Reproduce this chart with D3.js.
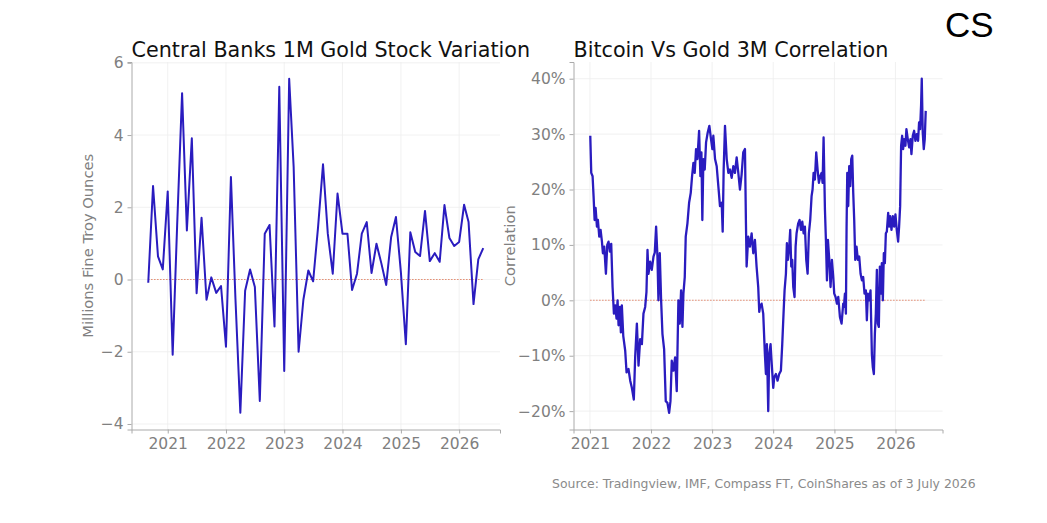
<!DOCTYPE html>
<html>
<head>
<meta charset="utf-8">
<script src="https://cdn.jsdelivr.net/npm/d3@7"></script>
<style>
  body { margin: 0; background: #fff; }
  svg { font-family: "DejaVu Sans", sans-serif; }
</style>
</head>
<body>
<script>
const width = 1047;
const height = 523;

// Central banks monthly gold stock change, Sep 2020 .. Jun 2026 (millions fine troy oz)
const goldStart = new Date(2020, 8, 1);
const goldEnd = new Date(2026, 6, 1);
const goldValues = [
  -0.09, 2.59, 0.64, 0.28, 2.44, -2.08, 1.5, 5.16, 1.36, 3.91,
  -0.38, 1.71, -0.56, 0.06, -0.37, -0.18, -1.86, 2.84, -0.5, -3.69,
  -0.31, 0.28, -0.21, -3.36, 1.27, 1.51, -1.30, 5.34, -2.53, 5.56,
  3.12, -2.0, -0.56, 0.25, -0.05, 1.45, 3.19, 1.27, 0.16, 2.38,
  1.27, 1.27, -0.29, 0.16, 1.27, 1.59, 0.18, 0.99, 0.44, -0.15,
  1.18, 1.73, 0.2, -1.79, 1.31, 0.76, 0.65, 1.90, 0.51, 0.73,
  0.49, 2.06, 1.15, 0.93, 1.04, 2.07, 1.59, -0.68, 0.56, 0.87
];
const goldTicks = [-4, -2, 0, 2, 4, 6];

// Bitcoin vs gold 3M correlation (decimal year, %)
const corrYears = [
  2021.005, 2021.021, 2021.043, 2021.059, 2021.076, 2021.092, 2021.114, 2021.130, 2021.152, 2021.174,
  2021.196, 2021.212, 2021.234, 2021.261, 2021.283, 2021.304, 2021.326, 2021.348, 2021.370, 2021.392,
  2021.413, 2021.435, 2021.452, 2021.468, 2021.490, 2021.506, 2021.522, 2021.545, 2021.577, 2021.599,
  2021.631, 2021.659, 2021.686, 2021.718, 2021.740, 2021.768, 2021.795, 2021.822, 2021.850, 2021.876,
  2021.904, 2021.925, 2021.942, 2021.958, 2021.985, 2022.012, 2022.040, 2022.061, 2022.083, 2022.105,
  2022.121, 2022.143, 2022.165, 2022.187, 2022.214, 2022.241, 2022.268, 2022.296, 2022.318, 2022.339,
  2022.367, 2022.394, 2022.421, 2022.448, 2022.470, 2022.492, 2022.514, 2022.530, 2022.552, 2022.568,
  2022.596, 2022.623, 2022.650, 2022.672, 2022.694, 2022.715, 2022.737, 2022.759, 2022.787, 2022.808,
  2022.825, 2022.840, 2022.857, 2022.879, 2022.901, 2022.928, 2022.955, 2022.982, 2023.004, 2023.020,
  2023.048, 2023.075, 2023.102, 2023.129, 2023.157, 2023.173, 2023.189, 2023.211, 2023.239, 2023.266,
  2023.293, 2023.320, 2023.347, 2023.374, 2023.402, 2023.429, 2023.456, 2023.483, 2023.510, 2023.538,
  2023.554, 2023.565, 2023.592, 2023.619, 2023.647, 2023.674, 2023.701, 2023.728, 2023.755, 2023.772,
  2023.783, 2023.810, 2023.837, 2023.864, 2023.881, 2023.897, 2023.919, 2023.935, 2023.957, 2023.973,
  2024.001, 2024.017, 2024.044, 2024.071, 2024.098, 2024.126, 2024.148, 2024.169, 2024.186, 2024.208,
  2024.224, 2024.240, 2024.262, 2024.278, 2024.295, 2024.311, 2024.328, 2024.349, 2024.366, 2024.382,
  2024.409, 2024.431, 2024.453, 2024.475, 2024.497, 2024.518, 2024.540, 2024.562, 2024.583, 2024.605,
  2024.627, 2024.643, 2024.660, 2024.681, 2024.703, 2024.725, 2024.747, 2024.769, 2024.790, 2024.807,
  2024.823, 2024.845, 2024.861, 2024.878, 2024.894, 2024.916, 2024.937, 2024.959, 2024.981, 2024.997,
  2025.019, 2025.041, 2025.063, 2025.090, 2025.117, 2025.144, 2025.155, 2025.172, 2025.188, 2025.199,
  2025.210, 2025.226, 2025.242, 2025.259, 2025.275, 2025.292, 2025.308, 2025.324, 2025.341, 2025.362,
  2025.384, 2025.406, 2025.428, 2025.450, 2025.471, 2025.493, 2025.515, 2025.531, 2025.548, 2025.569,
  2025.591, 2025.613, 2025.629, 2025.646, 2025.662, 2025.678, 2025.695, 2025.711, 2025.727, 2025.744,
  2025.760, 2025.776, 2025.793, 2025.809, 2025.826, 2025.842, 2025.858, 2025.880, 2025.896, 2025.912,
  2025.934, 2025.956, 2025.978, 2025.999, 2026.021, 2026.043, 2026.059, 2026.076, 2026.092, 2026.109,
  2026.125, 2026.141, 2026.163, 2026.179, 2026.201, 2026.223, 2026.245, 2026.261, 2026.283, 2026.305,
  2026.326, 2026.348, 2026.370, 2026.386, 2026.403, 2026.419, 2026.430, 2026.446, 2026.463, 2026.479,
  2026.495
];
const corrValues = [
  29.7, 23.0, 22.4, 18.8, 14.5, 16.7, 13.3, 14.5, 11.5, 12.7,
  10.6, 8.5, 9.7, 4.8, 10.0, 10.6, 8.8, 10.2, 2.4, -2.4,
  -0.9, -3.3, 0.0, -4.5, -1.2, -5.8, -0.9, -6.4, -9.1, -13.0,
  -12.4, -14.5, -15.8, -17.9, -10.3, -4.2, -11.8, -7.0, -7.9, -2.4,
  -1.2, 1.5, 9.1, 4.8, 7.0, 5.5, 7.9, 8.6, 13.3, 7.9,
  0.0, 8.5, 0.0, -6.1, -8.8, -18.2, -18.5, -20.3, -18.2, -10.9,
  -12.7, -10.3, -16.4, 0.0, -4.2, 1.8, -4.8, 1.2, 4.2, 11.5,
  13.9, 17.6, 19.4, 22.4, 24.8, 23.0, 27.3, 25.5, 30.6, 22.4,
  26.7, 14.5, 25.5, 23.6, 28.5, 30.3, 31.5, 29.1, 27.3, 29.7,
  25.5, 24.2, 20.6, 17.0, 17.6, 12.4, 23.6, 31.5, 25.5, 23.0,
  23.6, 22.1, 24.2, 23.0, 25.8, 23.0, 20.0, 22.7, 26.7, 27.3,
  13.9, 6.1, 11.5, 9.7, 12.1, 8.5, 10.9, 6.1, 2.4, -2.1,
  -1.2, -0.6, -2.4, -9.7, -13.3, -7.9, -20.0, -9.7, -7.9, -10.9,
  -15.8, -13.9, -13.3, -14.5, -13.3, -12.7, -7.9, -2.4, 1.8, 4.8,
  10.3, 7.3, 9.7, 12.7, 6.1, 7.3, 2.4, 0.6, 9.7, 12.1,
  13.9, 14.5, 12.7, 14.2, 12.1, 13.3, 7.3, 4.8, 12.1, 14.5,
  18.8, 20.0, 23.0, 21.8, 26.7, 23.6, 21.2, 22.4, 23.0, 21.2,
  29.4, 16.4, 10.9, 3.6, 10.9, 7.3, 2.4, 7.3, 4.2, 1.2,
  0.6, -0.6, 0.6, -3.0, -4.2, -0.6, -1.2, 1.2, -2.4, 13.3,
  23.0, 17.0, 24.2, 20.6, 25.5, 26.1, 19.4, 14.5, 7.3, 9.7,
  7.3, 7.9, 4.8, 3.6, 4.2, 1.2, 1.8, -3.6, 1.2, 0.0,
  1.8, -9.7, -12.1, -13.3, -6.1, -2.4, 5.5, -4.2, -4.8, 6.1,
  1.2, 6.7, 0.0, 8.5, 6.7, 12.1, 12.4, 15.8, 13.3, 15.2,
  12.7, 15.2, 13.3, 15.5, 12.7, 10.6, 13.3, 17.0, 27.9, 29.7,
  27.3, 29.1, 27.9, 30.9, 29.1, 27.6, 29.1, 26.4, 29.7, 30.6,
  28.8, 30.0, 28.8, 32.1, 30.9, 35.2, 40.0, 30.3, 27.3, 29.1,
  34.2
];
const corrTicks = [-20, -10, 0, 10, 20, 30, 40];
const yearTicks = [2021, 2022, 2023, 2024, 2025, 2026];

const lineColor = "#2a1cbf";
const zeroColor = "#e0714f";
const grey = "#808080";

function yearToDate(y) {
  const yr = Math.floor(y);
  const start = Date.UTC(yr, 0, 1), end = Date.UTC(yr + 1, 0, 1);
  return new Date(start + (y - yr) * (end - start));
}
function padded(ext) {
  const r = ext[1] - ext[0];
  return [ext[0] - r * 0.05, ext[1] + r * 0.05];
}

const goldData = d3.timeMonth.range(goldStart, goldEnd).map((d, i) => ({date: d, value: goldValues[i]}));
const corrData = corrYears.map((y, i) => ({date: yearToDate(y), value: corrValues[i]}));

const svg = d3.select("body").append("svg")
    .attr("width", width)
    .attr("height", height);

function drawPanel(opts) {
  const {data, box, yTicks, yFormat, title, yLabel, yLabelX, lineWidth} = opts;
  const xExt = padded(d3.extent(data, d => +d.date));
  const yExt = padded(d3.extent(data, d => d.value));
  const x = d3.scaleTime().domain([new Date(xExt[0]), new Date(xExt[1])]).range([box.left, box.right]);
  const y = d3.scaleLinear().domain(yExt).range([box.bottom, box.top]);
  const yearDates = yearTicks.map(t => new Date(t, 0, 1));

  const g = svg.append("g");

  // grid
  g.selectAll(".vgrid").data(yearDates).enter().append("line")
      .attr("x1", d => x(d)).attr("x2", d => x(d))
      .attr("y1", box.top).attr("y2", box.bottom)
      .attr("stroke", "#eeeeee").attr("stroke-width", 0.8);
  g.selectAll(".hgrid").data(yTicks).enter().append("line")
      .attr("x1", box.left).attr("x2", box.right)
      .attr("y1", d => y(d)).attr("y2", d => y(d))
      .attr("stroke", "#eeeeee").attr("stroke-width", 0.8);

  // axes
  const xAxis = g.append("g")
      .attr("transform", `translate(0,${box.bottom})`)
      .call(d3.axisBottom(x).tickValues(yearDates).tickFormat(d3.timeFormat("%Y")).tickSize(4).tickPadding(4));
  const yAxis = g.append("g")
      .attr("transform", `translate(${box.left},0)`)
      .call(d3.axisLeft(y).tickValues(yTicks).tickFormat(yFormat).tickSize(4).tickPadding(4));
  [xAxis, yAxis].forEach(a => {
    a.select(".domain").attr("stroke", "#aaaaaa").attr("stroke-width", 1);
    a.selectAll(".tick line").attr("stroke", "#aaaaaa");
    a.selectAll(".tick text").attr("fill", grey).style("font-size", "15.5px")
        .style("font-family", "DejaVu Sans");
  });

  // zero line
  const dx = d3.extent(data, d => d.date);
  g.append("line")
      .attr("x1", x(dx[0])).attr("x2", x(dx[1]))
      .attr("y1", y(0)).attr("y2", y(0))
      .attr("stroke", zeroColor).attr("stroke-width", 1.1)
      .attr("stroke-dasharray", "1.2,1.8");

  // series
  g.append("path")
      .datum(data)
      .attr("fill", "none")
      .attr("stroke", lineColor)
      .attr("stroke-width", lineWidth)
      .attr("stroke-linejoin", "round")
      .attr("d", d3.line().x(d => x(d.date)).y(d => y(d.value)));

  // title
  g.append("text")
      .attr("x", box.left).attr("y", 57)
      .style("font-size", "20.7px").attr("fill", "#111")
      .text(title);

  // y label
  g.append("text")
      .attr("transform", `translate(${yLabelX},${(box.top + box.bottom) / 2}) rotate(-90)`)
      .attr("text-anchor", "middle")
      .style("font-size", "14.7px").attr("fill", grey)
      .text(yLabel);
}

drawPanel({
  data: goldData,
  box: {left: 131.5, right: 500, top: 62, bottom: 429.5},
  yTicks: goldTicks,
  yFormat: d3.format("d"),
  title: "Central Banks 1M Gold Stock Variation",
  yLabel: "Millions Fine Troy Ounces",
  yLabelX: 93,
  lineWidth: 2
});

drawPanel({
  data: corrData,
  box: {left: 573.5, right: 942.5, top: 62, bottom: 429.5},
  yTicks: corrTicks,
  yFormat: d => d3.format("d")(d) + "%",
  title: "Bitcoin Vs Gold 3M Correlation",
  yLabel: "Correlation",
  yLabelX: 515,
  lineWidth: 2.3
});

// logo
svg.append("text")
    .attr("x", 945).attr("y", 36.5)
    .style("font-family", "Liberation Sans, Arial, sans-serif")
    .style("font-size", "35px").attr("fill", "#000")
    .text("CS");

// source
svg.append("text")
    .attr("x", 552).attr("y", 488)
    .style("font-size", "12.45px").attr("fill", "#8a8a8a")
    .text("Source: Tradingview, IMF, Compass FT, CoinShares as of 3 July 2026");
</script>
</body>
</html>
